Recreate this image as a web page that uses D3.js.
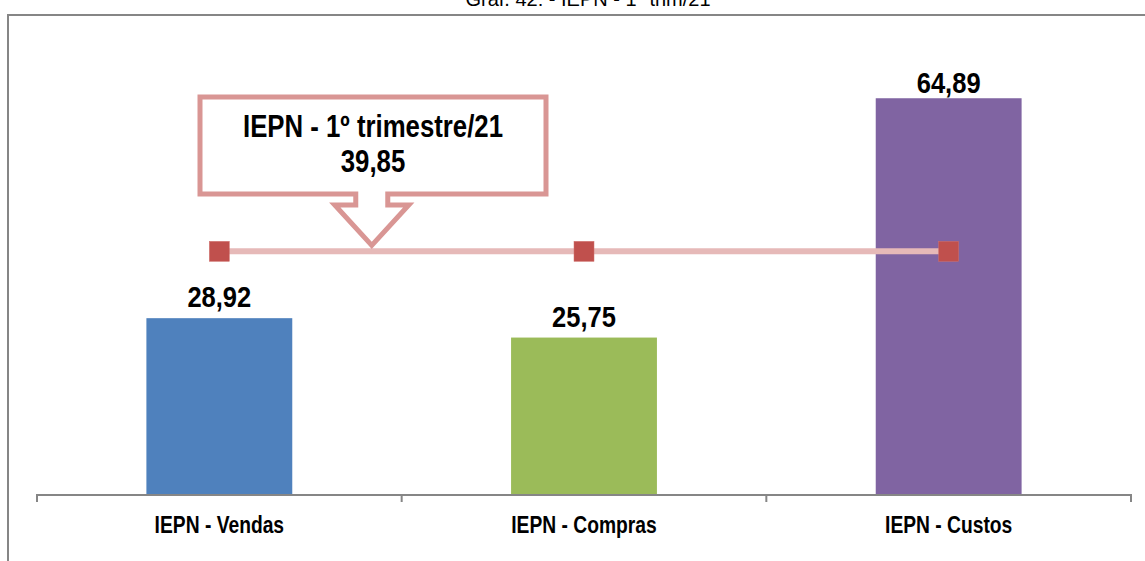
<!DOCTYPE html>
<html>
<head>
<meta charset="utf-8">
<script src="https://cdn.jsdelivr.net/npm/d3@7"></script>
<style>
  html, body { margin: 0; padding: 0; background: #ffffff; }
  svg { display: block; }
</style>
</head>
<body>
<svg id="chart" width="1145" height="561"></svg>
<script>
// ---- data ----
const titleText = "Graf. 42: - IEPN - 1º trim/21";
const categories = ["IEPN - Vendas", "IEPN - Compras", "IEPN - Custos"];
const values = [28.92, 25.75, 64.89];
const averageValues = [39.85, 39.85, 39.85];
const averageLabel = ["IEPN - 1º trimestre/21", "39,85"];
const barColors = ["#4F81BD", "#9BBB59", "#8064A2"];
const yDomain = [0, 70];

// ---- layout ----
const W = 1145, H = 561;
const axisY = 495, plotTop = 67;
const fmt = v => v.toFixed(2).replace(".", ",");
const sans = "'Liberation Sans', Arial, sans-serif";

const svg = d3.select("#chart");

// helper: condensed bold text (Arial Narrow look)
function narrowText(sel, sx) {
  return sel.attr("transform", function () {
    const t = d3.select(this);
    const px = +t.attr("data-x"), py = +t.attr("data-y");
    return `translate(${px},${py}) scale(${sx},1)`;
  });
}

// frame
svg.append("path")
  .attr("d", `M8,${H + 5} V15 H${W + 5}`)
  .attr("fill", "none").attr("stroke", "#868686").attr("stroke-width", 2);

// title (clipped at the top edge, as in the reference)
svg.append("text")
  .attr("x", 588).attr("y", 6)
  .attr("text-anchor", "middle")
  .attr("font-family", sans)
  .attr("font-size", 20).attr("fill", "#000")
  .text(titleText);

// scales
const x = d3.scaleBand().domain(categories).range([37, 1131])
  .paddingInner(0.6).paddingOuter(0.3);
const y = d3.scaleLinear().domain(yDomain).range([axisY, plotTop]);
const cx = d => x(d) + x.bandwidth() / 2;

// bars
svg.append("g").selectAll("rect").data(categories).join("rect")
  .attr("x", d => x(d))
  .attr("y", (d, i) => y(values[i]))
  .attr("width", x.bandwidth())
  .attr("height", (d, i) => y(0) - y(values[i]))
  .attr("fill", (d, i) => barColors[i]);

// x axis
const axis = d3.axisBottom(x).tickSize(0).tickPadding(0).tickFormat(() => "");
const gx = svg.append("g").attr("transform", `translate(0,${axisY})`).call(axis);
gx.select(".domain").attr("stroke", "#868686").attr("stroke-width", 2)
  .attr("d", "M37,7V0H1131V7");
const step = x.step();
const bounds = categories.map(c => x(c) - x.paddingInner() * step / 2).slice(1);
gx.selectAll(".bound").data(bounds).join("line").attr("class", "bound")
  .attr("x1", d => d).attr("x2", d => d).attr("y1", 0).attr("y2", 7)
  .attr("stroke", "#868686").attr("stroke-width", 2);

// category labels
svg.append("g").selectAll("text").data(categories).join("text")
  .attr("data-x", d => cx(d))
  .attr("data-y", axisY + 38)
  .attr("text-anchor", "middle")
  .attr("font-family", sans).attr("font-weight", "bold")
  .attr("font-size", 23.5).attr("fill", "#000")
  .text(d => d)
  .call(narrowText, 0.82);

// value labels
svg.append("g").selectAll("text").data(categories).join("text")
  .attr("data-x", d => cx(d))
  .attr("data-y", (d, i) => Math.max(y(values[i]) - 11, 93))
  .attr("text-anchor", "middle")
  .attr("font-family", sans).attr("font-weight", "bold")
  .attr("font-size", 29).attr("fill", "#000")
  .text((d, i) => fmt(values[i]))
  .call(narrowText, 0.88);

// average line
const line = d3.line().x((d, i) => cx(categories[i])).y(d => y(d));
svg.append("path").datum(averageValues)
  .attr("d", line).attr("fill", "none")
  .attr("stroke", "#E6B9B8").attr("stroke-width", 6);
svg.append("g").selectAll("rect").data(averageValues).join("rect")
  .attr("x", (d, i) => cx(categories[i]) - 10)
  .attr("y", d => y(d) - 10)
  .attr("width", 20).attr("height", 20)
  .attr("fill", "#C0504D").attr("stroke", "#D0706D").attr("stroke-width", 0.5);

// callout (down arrow callout)
const tipX = cx(categories[0]) + 0.418 * (cx(categories[1]) - cx(categories[0]));
const tipY = y(averageValues[0]) - 6;
const bx0 = 200, bx1 = 546, by0 = 97, by1 = 194;
const stemHalf = 16, headHalf = 37, headTop = 205;
const callout = `M${bx0},${by0} H${bx1} V${by1} H${tipX + stemHalf} V${headTop} H${tipX + headHalf}
  L${tipX},${tipY} L${tipX - headHalf},${headTop} H${tipX - stemHalf} V${by1} H${bx0} Z`;
svg.append("path").attr("d", callout)
  .attr("fill", "#ffffff").attr("stroke", "#D99694").attr("stroke-width", 5)
  .attr("stroke-linejoin", "miter");
svg.append("g").selectAll("text").data(averageLabel).join("text")
  .attr("data-x", (bx0 + bx1) / 2)
  .attr("data-y", (d, i) => 137 + i * 35)
  .attr("text-anchor", "middle")
  .attr("font-family", sans).attr("font-weight", "bold")
  .attr("font-size", 30.5).attr("fill", "#000")
  .text(d => d)
  .call(narrowText, 0.845);
</script>
</body>
</html>
